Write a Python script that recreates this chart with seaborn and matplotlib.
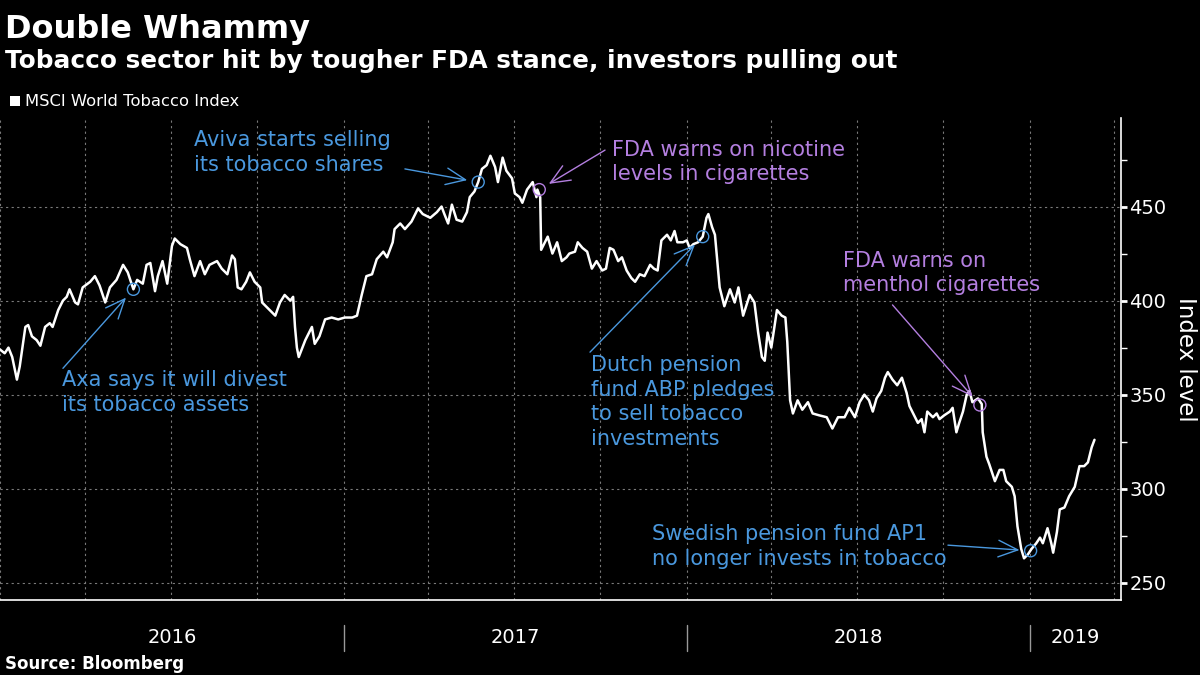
import pandas as pd
import matplotlib
matplotlib.use("Agg")
import matplotlib.pyplot as plt
import matplotlib.dates as mdates
import matplotlib.transforms as mtransforms
from matplotlib.patches import Rectangle
from matplotlib.ticker import MultipleLocator, NullFormatter
import seaborn as sns

# MSCI World Tobacco Index (days after 2016-01-01, index level)
start = pd.Timestamp("2016-01-01")
day_offsets = [
    0, 5, 9, 13, 18, 21, 27, 30, 34, 39, 43, 48, 53, 56, 62, 67, 71, 74, 80, 83,
    88, 96, 101, 106, 112, 117, 124, 131, 136, 142, 146, 152, 156, 160, 165, 168,
    173, 178, 183, 186, 192, 199, 202, 207, 213, 218, 223, 231, 236, 242, 247, 250,
    253, 257, 262, 266, 271, 277, 279, 285, 293, 298, 303, 309, 312, 314, 316, 318,
    325, 332, 335, 340, 346, 353, 360, 367, 375, 380, 385, 390, 396, 401, 408, 412,
    418, 420, 426, 431, 438, 445, 450, 458, 465, 470, 473, 477, 481, 486, 492, 497,
    500, 505, 509, 513, 518, 522, 527, 530, 535, 539, 545, 548, 553, 556, 561, 567,
    571, 572, 575, 576, 583, 588, 593, 598, 603, 606, 612, 615, 620, 625, 630, 635,
    641, 645, 649, 653, 658, 662, 667, 672, 676, 681, 686, 692, 696, 700, 704, 710,
    714, 718, 721, 727, 731, 734, 738, 743, 748, 752, 754, 758, 761, 764, 766, 771,
    777, 782, 786, 791, 798, 803, 807, 811, 814, 817, 821, 827, 832, 836, 838, 841,
    844, 849, 854, 860, 865, 872, 880, 886, 892, 899, 904, 910, 915, 920, 925, 929,
    933, 938, 942, 945, 950, 955, 960, 965, 968, 974, 977, 981, 984, 987, 993, 997,
    1000, 1005, 1011, 1014, 1018, 1021, 1025, 1029, 1032, 1035, 1041, 1045, 1046,
    1050, 1053, 1059, 1064, 1068, 1071, 1077, 1080, 1083, 1087, 1090, 1094, 1098,
    1103, 1107, 1110, 1115, 1119, 1121, 1125, 1128, 1133, 1138, 1144, 1149, 1154,
    1158, 1162, 1165,
]
index_level = [
    374, 372, 375, 370, 358, 365, 386, 387, 381, 379, 376, 386, 388, 386, 395, 400, 402, 406, 399, 398,
    407, 410, 413, 408, 399, 407, 411, 419, 415, 406, 411, 409, 419, 420, 405, 413,
    421, 409, 429, 433, 430, 428, 422, 413, 421, 414, 419, 421, 417, 414, 424, 422,
    407, 406, 410, 415, 410, 407, 399, 396, 392, 399, 403, 400, 402, 386, 375, 370,
    379, 386, 377, 381, 390, 391, 390, 391, 391, 392, 403, 413, 414, 422, 426, 423,
    431, 438, 441, 438, 442, 449, 446, 444, 447, 450, 446, 441, 451, 443, 442, 447,
    455, 458, 463, 470, 472, 477, 471, 463, 476, 469, 465, 457, 455, 452, 459, 463,
    455, 459, 455, 427, 434, 425, 431, 421, 423, 425, 426, 431, 428, 426, 417, 421,
    416, 417, 428, 427, 421, 423, 416, 412, 410, 414, 413, 419, 417, 416, 432, 435,
    432, 437, 431, 431, 432, 428, 430, 431, 434, 444, 446, 439, 435, 418, 407, 397,
    406, 399, 407, 392, 403, 399, 383, 370, 368, 383, 375, 395, 392, 391, 378, 347,
    340, 347, 342, 346, 340, 339, 338, 332, 338, 338, 343, 338, 346, 350, 347, 341,
    348, 352, 359, 362, 358, 355, 359, 351, 344, 338, 335, 337, 330, 341, 338, 340,
    337, 339, 341, 343, 330, 335, 341, 350, 352, 346, 348, 345, 330,
    317, 313, 304, 310, 310, 304, 301, 296, 280, 268, 263, 265, 268,
    271, 274, 271, 279, 271, 266, 277, 289, 290, 296, 301, 312, 312,
    314, 322, 326,
]

# annotated events
event_days = [142, 509, 574, 748, 1043, 1097]
event_values = [406, 463, 459, 434, 344.5, 267]
event_labels = [
    "Axa says it will divest\nits tobacco assets",
    "Aviva starts selling\nits tobacco shares",
    "FDA warns on nicotine\nlevels in cigarettes",
    "Dutch pension\nfund ABP pledges\nto sell tobacco\ninvestments",
    "FDA warns on\nmenthol cigarettes",
    "Swedish pension fund AP1\nno longer invests in tobacco",
]
event_kind = ["investor", "investor", "fda", "investor", "fda", "investor"]
label_days = [66, 207, 651, 629, 897, 694]
label_values = [363, 490.5, 485.5, 371, 426.5, 281]
tail_days = [67, 431, 644, 628, 950, 1009]
tail_values = [364, 470, 480, 372.6, 397.7, 270]

years = [2016, 2017, 2018, 2019]

BLUE = "#4a98de"
PURPLE = "#b47fe0"
GRID = "#7a7a7a"
kind_color = {"investor": BLUE, "fda": PURPLE}

df = pd.DataFrame({
    "date": start + pd.to_timedelta(day_offsets, unit="D"),
    "level": index_level,
})

sns.set_style("dark")
plt.rcParams["font.family"] = ["DejaVu Sans"]

fig = plt.figure(figsize=(12, 6.75), dpi=100, facecolor="black")
ax = fig.add_axes([0.0, 0.111, 0.934, 0.714], facecolor="black")

sns.lineplot(data=df, x="date", y="level", ax=ax, color="white", linewidth=1.8)

x_end = pd.Timestamp("2019-04-08")
ax.set_xlim(start, x_end)
ax.set_ylim(240.8, 497)

# axes styling
for side in ["left", "top"]:
    ax.spines[side].set_visible(False)
for side in ["bottom", "right"]:
    ax.spines[side].set_color("white")
    ax.spines[side].set_linewidth(1.2)

ax.yaxis.tick_right()
ax.yaxis.set_label_position("right")
ax.yaxis.set_major_locator(MultipleLocator(50))
ax.yaxis.set_minor_locator(MultipleLocator(25))
ax.tick_params(axis="y", which="major", colors="white", labelsize=14, length=4, width=2, pad=2, direction="out")
ax.tick_params(axis="y", which="minor", colors="white", length=4, width=1, direction="out")
ax.set_ylabel("Index level", color="white", fontsize=16.5, rotation=270, labelpad=22)

ax.xaxis.set_major_locator(mdates.MonthLocator(bymonth=[1, 4, 7, 10]))
ax.xaxis.set_minor_locator(mdates.MonthLocator())
ax.xaxis.set_major_formatter(NullFormatter())
ax.tick_params(axis="x", which="both", colors="white", length=4, width=1, direction="out")
ax.set_xlabel("")

ax.grid(True, which="major", color=GRID, linestyle=(0, (2, 3)), linewidth=0.8)

# year labels under the axis, centred on the visible part of each year
trans = mtransforms.blended_transform_factory(ax.transData, ax.transAxes)
for yr in years:
    y0 = max(pd.Timestamp(f"{yr}-01-01"), start)
    y1 = min(pd.Timestamp(f"{yr + 1}-01-01"), x_end)
    mid = y0 + (y1 - y0) / 2
    ax.text(mid, -0.077, str(yr), transform=trans, color="white", fontsize=14,
            ha="center", va="center")
    if yr > years[0]:
        ax.plot([y0, y0], [-0.052, -0.106], transform=trans, color="#999999",
                linewidth=1, clip_on=False)

# event markers, labels, arrows
for d, v, lab, k, ld, lv, td, tv in zip(event_days, event_values, event_labels, event_kind,
                                          label_days, label_values, tail_days, tail_values):
    c = kind_color[k]
    pt = start + pd.Timedelta(days=d)
    ax.scatter([pt], [v], s=75, facecolors="none", edgecolors=c, linewidths=1, zorder=5)
    ax.text(start + pd.Timedelta(days=ld), lv, lab, color=c, fontsize=15,
            ha="left", va="top", linespacing=1.28)
    ax.annotate("", xy=(pt, v), xytext=(start + pd.Timedelta(days=td), tv),
                arrowprops=dict(arrowstyle="->,head_length=0.7,head_width=0.3", color=c,
                                lw=1, shrinkA=0, shrinkB=8, mutation_scale=20))

# header and footer
fig.text(0.004, 0.9437, "Double Whammy", color="white", fontsize=23, fontweight="bold",
         ha="left", va="baseline")
fig.text(0.004, 0.899, "Tobacco sector hit by tougher FDA stance, investors pulling out",
         color="white", fontsize=17.8, fontweight="bold", ha="left", va="baseline")
fig.patches.append(Rectangle((10 / 1200, 1 - 106 / 675), 10 / 1200, 10 / 675,
                             transform=fig.transFigure, facecolor="white", edgecolor="none"))
fig.text(25 / 1200, 0.843, "MSCI World Tobacco Index", color="white", fontsize=11.8,
         ha="left", va="baseline")
fig.text(0.004, 0.009, "Source: Bloomberg", color="white", fontsize=12, fontweight="bold",
         ha="left", va="baseline")

fig.savefig("out.png", dpi=100, facecolor="black")
